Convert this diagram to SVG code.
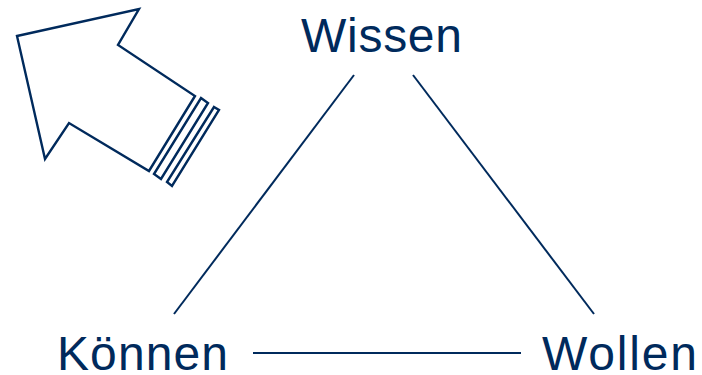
<svg xmlns="http://www.w3.org/2000/svg" width="702" height="375" viewBox="0 0 702 375">
<style>
.ln{stroke:#002a5c;stroke-width:2;fill:none}
.ar{stroke:#002a5c;stroke-width:2.4;fill:#fff;stroke-linejoin:miter}
.lbl{font-family:"Liberation Sans",Arial,sans-serif;font-size:48px;fill:#002a5c}
</style>
<rect width="702" height="375" fill="#fff"/>
<g id="arrow">
<polygon class="ar" points="17,36 139,9 118,45 195,96 149,171 69,123 45,159"/>
<polygon class="ar" points="201,98 208,103 161,179 154,174"/>
<polygon class="ar" points="214,107 219,110 172,186 167,182"/>
</g>
<g id="connectors">
<line class="ln" x1="354" y1="75" x2="174" y2="314"/>
<line class="ln" x1="413" y1="75" x2="594" y2="314"/>
<line class="ln" x1="253" y1="353" x2="521" y2="353"/>
</g>
<g id="wissen"><text class="lbl" x="301" y="52" textLength="161" lengthAdjust="spacing">Wissen</text></g>
<g id="koennen"><text class="lbl" x="57" y="370" textLength="171" lengthAdjust="spacing">Können</text></g>
<g id="wollen"><text class="lbl" x="542" y="370" textLength="155" lengthAdjust="spacing">Wollen</text></g>
</svg>
